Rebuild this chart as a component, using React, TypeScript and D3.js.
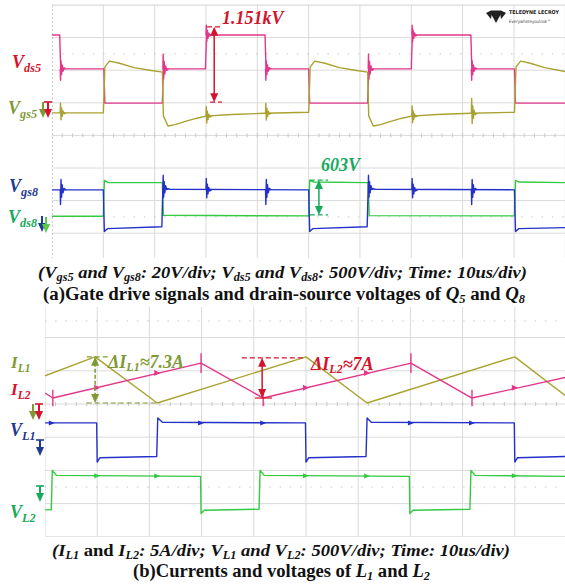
import React from 'react';
import * as d3 from 'd3';

type P = [number, number];

// ---------- Panel (a) : time in us (10us/div), level in divisions ----------
const vds5: P[] = [[0,3.08],[1.5,3.08],[1.7,2.04],[10.1,2.04],[10.3,0.99],[21.5,0.99],[21.7,2.04],[29.9,2.04],[30.1,3.08],[41.5,3.08],[41.7,2.04],[50.0,2.04],[50.2,0.99],[61.5,0.99],[61.7,2.04],[70.0,2.04],[70.2,3.08],[81.6,3.08],[81.8,2.04],[90.1,2.04],[90.3,0.99],[100,0.99]];
const vgs5: P[] = [[0,0.69],[10.0,0.69],[10.3,2.1],[11.2,2.28],[13,2.22],[16,2.08],[19,2.0],[21.5,1.94],[21.7,0.6],[22.6,0.29],[24,0.33],[26,0.43],[28,0.52],[30,0.59],[35,0.64],[41.5,0.68],[50.0,0.71],[50.3,2.1],[51.2,2.28],[53,2.22],[56,2.08],[59,2.0],[61.5,1.94],[61.7,0.6],[62.6,0.29],[64,0.33],[66,0.43],[68,0.52],[70,0.59],[75,0.64],[81.6,0.68],[90.1,0.71],[90.4,2.1],[91.3,2.28],[93,2.22],[96,2.08],[100,1.96]];
const vgs8: P[] = [[0,-1.67],[10.0,-1.67],[10.2,-2.95],[10.8,-2.86],[21.4,-2.80],[21.6,-1.62],[23,-1.65],[50.0,-1.67],[50.2,-2.95],[50.8,-2.86],[61.4,-2.80],[61.6,-1.62],[63,-1.65],[90.1,-1.67],[90.3,-2.95],[90.9,-2.86],[100,-2.83]];
const vds8: P[] = [[0,-2.48],[10.0,-2.48],[10.2,-1.38],[11,-1.45],[21.5,-1.45],[21.7,-2.45],[50.0,-2.47],[50.2,-1.38],[51,-1.43],[61.6,-1.45],[61.8,-2.46],[90.1,-2.47],[90.3,-1.38],[91,-1.43],[100,-1.45]];

// ringing events [t, level, amplitude]
const vds5Rings: [number, number, number][] = [[1.6,2.04,-0.35],[21.6,2.04,0.45],[30.0,3.08,0.3],[41.6,2.04,-0.35],[61.6,2.04,0.45],[70.1,3.08,0.3],[81.7,2.04,-0.35]];
const vgs5Rings: [number, number, number][] = [[1.6,0.69,0.3],[30.0,0.59,0.3],[41.6,0.68,0.3],[70.1,0.6,0.3],[81.7,0.68,0.45]];
const vgs8Rings: [number, number, number][] = [[1.6,-1.67,-0.45],[21.6,-1.62,0.4],[30,-1.67,0.35],[41.6,-1.67,-0.45],[61.6,-1.62,0.4],[70.1,-1.67,0.35],[81.7,-1.67,-0.45]];

// ---------- Panel (b) ----------
const iL1: P[] = [[0,0.85],[9.6,1.42],[21.5,0.03],[50,1.42],[61.7,0.03],[90,1.42],[100,0.21]];
const iL2: P[] = [[0,0.33],[1.5,0.18],[29.9,1.23],[41.8,0.18],[70.1,1.23],[81.8,0.18],[100,0.81]];
const vL1: P[] = [[0,-0.57],[9.9,-0.57],[10.0,-1.75],[10.5,-1.62],[21.4,-1.58],[21.6,-0.42],[22.5,-0.55],[49.9,-0.57],[50,-1.75],[50.5,-1.62],[61.5,-1.58],[61.7,-0.42],[62.5,-0.55],[89.9,-0.57],[90,-1.75],[90.5,-1.62],[100,-1.58]];
const vL2: P[] = [[0,-3.19],[1.2,-3.19],[1.4,-2.0],[2.2,-2.15],[29.8,-2.18],[29.9,-3.3],[30.5,-3.2],[41.0,-3.17],[41.2,-2.0],[42,-2.15],[69.8,-2.18],[69.9,-3.3],[70.5,-3.2],[81.4,-3.17],[81.6,-2.0],[82.4,-2.15],[100,-2.18]];

const iL2Marks: P[] = [[10,0.49],[21.5,0.93],[50,0.49],[61.7,0.93],[90,0.49]];
const iL2Spikes: [number, number, number][] = [[1.5,0.18,0.25],[29.9,1.23,0.3],[41.8,0.18,0.25],[70.1,1.23,0.3],[81.8,0.18,0.25]];
const vL1Marks: P[] = [[1.3,-0.57],[29.9,-0.57],[41.8,-0.57],[70.1,-0.57],[81.8,-0.57]];
const vL2Marks: P[] = [[10,-2.16],[21.5,-2.17],[50,-2.16],[61.7,-2.17],[90,-2.16]];

// annotations [t, vTop, vBottom]
const annA1 = { t: 31.6, top: 3.33, bot: 1.02, dashTop: [30.2, 33.1], dashBot: [30.8, 33.1], label: '1.151kV' };
const annA2 = { t: 52.0, top: -1.37, bot: -2.44, dash: [50.2, 53.8], label: '603V' };
const annB1 = { t: 9.6, top: 1.42, bot: 0.03, dashTop: [8.0, 12.3], dashBot: [8.0, 21.5] };
const annB2 = { t: 41.6, top: 1.39, bot: 0.18, dashTop: [37.7, 49.8], solidBot: [40.2, 43.5] };

// caption segments: [text, kind] kind: n normal, i italic, s subscript
type Seg = [string, string];
const capA1: Seg[] = [['(V','i'],['gs5','s'],[' and V','i'],['gs8','s'],[': 20V/div; V','i'],['ds5','s'],[' and V','i'],['ds8','s'],[': 500V/div; Time: 10us/div)','i']];
const capA2: Seg[] = [['(a)Gate drive signals and drain-source voltages of ','n'],['Q','i'],['5','s'],[' and ','n'],['Q','i'],['8','s']];
const capB1: Seg[] = [['(I','i'],['L1','s'],[' and ','n'],['I','i'],['L2','s'],[': 5A/div; V','i'],['L1','s'],[' and V','i'],['L2','s'],[': 500V/div; Time: 10us/div)','i']];
const capB2: Seg[] = [['(b)Currents and voltages of ','n'],['L','i'],['1','s'],[' and ','n'],['L','i'],['2','s']];

const gridDivs = d3.range(0, 11);

const xA = d3.scaleLinear().domain([0, 100]).range([52, 565.3]);
const yA = d3.scaleLinear().domain([-4, 4]).range([265.8, 5]);
const xB = d3.scaleLinear().domain([0, 100]).range([45, 567]);
const yB = d3.scaleLinear().domain([-4, 3]).range([536.8, 304.4]);

const C = {
  pink: '#e2378a', olive: '#aaa230', blue: '#2431c8', green: '#34c940',
  red: '#d3142c', oliveLbl: '#7f9a35', blueLbl: '#1f3b8e', greenLbl: '#17a95c', grid: '#dadada',
};
const serif = "'Liberation Serif', 'Times New Roman', serif";

const ringShape: P[] = [[0,0],[0.05,1],[0.13,-0.7],[0.22,0.5],[0.32,-0.35],[0.45,0.2],[0.62,-0.1],[0.9,0]];

function tracePath(xs: any, ys: any, pts: P[]) {
  return d3.line<P>().x(d => xs(d[0])).y(d => ys(d[1]))(pts) || '';
}
function ringPath(xs: any, ys: any, t: number, v: number, a: number) {
  return d3.line<P>().x(d => xs(t + d[0] * 1.2)).y(d => ys(v + a * d[1]))(ringShape) || '';
}

function Grid({ xs, ys, x0, x1, y0, y1, rows, dotted, axisRow, leftDotted }: any) {
  return (
    <g>
      {rows.map((r: number) => (
        <line key={'h' + r} x1={x0} x2={x1} y1={ys(r)} y2={ys(r)} stroke={C.grid} strokeWidth={1} />
      ))}
      {gridDivs.map(d => (
        <line key={'v' + d} x1={xs(d * 10)} x2={xs(d * 10)} y1={y0} y2={y1}
          stroke={d === 0 && leftDotted ? '#9a9a9a' : C.grid} strokeWidth={1}
          strokeDasharray={d === 0 && leftDotted ? '2 2' : undefined} />
      ))}
      {dotted.map((r: number) => (
        <line key={'d' + r} x1={x0} x2={x1} y1={ys(r)} y2={ys(r)} stroke="#c8c8c8" strokeWidth={1} strokeDasharray="1.5 8.7" />
      ))}
      {d3.range(0, 101, 2).map(t => (
        <line key={'t' + t} x1={xs(t)} x2={xs(t)} y1={ys(axisRow) - 2} y2={ys(axisRow) + 2} stroke="#c8c8c8" strokeWidth={1} />
      ))}
    </g>
  );
}

function ChMarker({ x, y, color, flag }: { x: number; y: number; color: string; flag?: boolean }) {
  return (
    <g fill={color} stroke={color}>
      {flag && <line x1={x - 4} x2={x + 4} y1={y} y2={y} strokeWidth={1.6} />}
      <line x1={x} x2={x} y1={y} y2={y + 8} strokeWidth={2} />
      <path d={`M${x - 4},${y + 7} L${x + 4},${y + 7} L${x},${y + 16} Z`} stroke="none" />
    </g>
  );
}

function Label({ x, y, main, sub, color, size = 18 }: any) {
  return (
    <text x={x} y={y} fill={color} fontFamily={serif} fontWeight="bold" fontStyle="italic" fontSize={size}>
      <tspan>{main}</tspan>
      <tspan fontSize={size * 0.68} dy={4}>{sub}</tspan>
    </text>
  );
}

function VArrow({ x, y1, y2, color, dashed }: any) {
  return (
    <g>
      <line x1={x} x2={x} y1={y1 + 6} y2={y2 - 6} stroke={color} strokeWidth={1.5} strokeDasharray={dashed ? '4 2' : undefined} />
      <path d={`M${x - 4},${y1 + 9} L${x + 4},${y1 + 9} L${x},${y1} Z`} fill={color} />
      <path d={`M${x - 4},${y2 - 9} L${x + 4},${y2 - 9} L${x},${y2} Z`} fill={color} />
    </g>
  );
}

function Caption({ x, y, segs, size, width }: { x: number; y: number; segs: Seg[]; size: number; width: number }) {
  let down = false;
  return (
    <text x={x} y={y} fontFamily={serif} fontWeight="bold" fontSize={size} fill="#111"
      textLength={width} lengthAdjust="spacingAndGlyphs">
      {segs.map(([t, k], i) => {
        let dy = 0;
        if (k === 's') { dy = down ? 0 : 3; down = true; }
        else { dy = down ? -3 : 0; down = false; }
        return (
          <tspan key={i} dy={dy || undefined} fontSize={k === 's' ? size * 0.66 : undefined}
            fontStyle={k === 'n' ? 'normal' : 'italic'}>{t}</tspan>
        );
      })}
    </text>
  );
}

export default function App() {
  const rowsA = d3.range(-4, 5);
  const rowsB = d3.range(-4, 4);
  return (
    <svg width={565} height={585} style={{ position: 'absolute', left: 0, top: 0, background: '#fff' }}>
      <defs>
        <clipPath id="ca"><rect x={52} y={5} width={513} height={253} /></clipPath>
        <clipPath id="cb"><rect x={45} y={306} width={520} height={231} /></clipPath>
      </defs>
      <rect width={565} height={585} fill="#fff" />

      {/* Panel a */}
      <g clipPath="url(#ca)">
        <Grid xs={xA} ys={yA} x0={52} x1={565} y0={5} y1={258} rows={rowsA} dotted={[2.5, -2.5]} axisRow={0} leftDotted />
        <g fill="none" strokeWidth={1.4} strokeLinejoin="round">
          <path d={tracePath(xA, yA, vds5)} stroke={C.pink} />
          {vds5Rings.map((r, i) => <path key={i} d={ringPath(xA, yA, r[0], r[1], r[2])} stroke={C.pink} />)}
          <path d={tracePath(xA, yA, vgs5)} stroke={C.olive} />
          {vgs5Rings.map((r, i) => <path key={i} d={ringPath(xA, yA, r[0], r[1], r[2])} stroke={C.olive} />)}
          <path d={tracePath(xA, yA, vds8)} stroke={C.green} />
          <path d={tracePath(xA, yA, vgs8)} stroke={C.blue} />
          {vgs8Rings.map((r, i) => <path key={i} d={ringPath(xA, yA, r[0], r[1], r[2])} stroke={C.blue} />)}
        </g>
      </g>
      <line x1={52} x2={565} y1={5} y2={5} stroke={C.grid} />

      {/* annotations a */}
      <g stroke={C.red} strokeWidth={1.2} strokeDasharray="5 3">
        <line x1={xA(annA1.dashTop[0])} x2={xA(annA1.dashTop[1])} y1={yA(annA1.top)} y2={yA(annA1.top)} />
        <line x1={xA(annA1.dashBot[0])} x2={xA(annA1.dashBot[1])} y1={yA(annA1.bot)} y2={yA(annA1.bot)} />
      </g>
      <VArrow x={xA(annA1.t)} y1={yA(annA1.top)} y2={yA(annA1.bot)} color={C.red} />
      <text x={222} y={24} fill={C.red} fontFamily={serif} fontWeight="bold" fontStyle="italic" fontSize={18}>{annA1.label}</text>

      <g stroke={C.greenLbl} strokeWidth={1.2} strokeDasharray="5 3">
        <line x1={xA(annA2.dash[0])} x2={xA(annA2.dash[1])} y1={yA(annA2.top)} y2={yA(annA2.top)} />
        <line x1={xA(annA2.dash[0])} x2={xA(annA2.dash[1])} y1={yA(annA2.bot)} y2={yA(annA2.bot)} />
      </g>
      <VArrow x={xA(annA2.t)} y1={yA(annA2.top)} y2={yA(annA2.bot)} color={C.greenLbl} />
      <text x={321} y={171} fill={C.greenLbl} fontFamily={serif} fontWeight="bold" fontStyle="italic" fontSize={18}>{annA2.label}</text>

      {/* logo */}
      <g fill="#222">
        <path d="M486,13 L506,13 L501,10.5 L491,10.5 Z" />
        <path d="M490.5,13 L496,23 L501.5,13 Z" />
        <path d="M486,13 L491,19 L492,13 Z" />
        <path d="M506,13 L501,19 L500,13 Z" />
      </g>
      <text x={509} y={13.5} fontFamily="'DejaVu Sans Condensed', 'DejaVu Sans', sans-serif" fontWeight="bold" fontSize={5.3} fill="#222"
        textLength={50} lengthAdjust="spacingAndGlyphs">TELEDYNE LECROY</text>
      <text x={509} y={22.5} fontFamily="'DejaVu Sans', sans-serif" fontSize={4.5} fill="#444"
        textLength={42} lengthAdjust="spacingAndGlyphs">Everywhereyoulook™</text>

      {/* labels a */}
      <Label x={12} y={68} main="V" sub="ds5" color={C.red} />
      <Label x={8} y={114} main="V" sub="gs5" color={C.oliveLbl} />
      <Label x={9} y={192} main="V" sub="gs8" color={C.blueLbl} />
      <Label x={8} y={223} main="V" sub="ds8" color={C.greenLbl} />
      <ChMarker x={43} y={102} color={C.oliveLbl} />
      <ChMarker x={48} y={102} color={C.red} flag />
      <ChMarker x={42} y={216} color={C.blueLbl} />
      <ChMarker x={46} y={217} color="#5cc94a" />

      {/* caption a */}
      <Caption x={38} y={278} segs={capA1} size={17.5} width={489} />
      <Caption x={43} y={300} segs={capA2} size={18} width={482} />

      {/* Panel b */}
      <g clipPath="url(#cb)">
        <Grid xs={xB} ys={yB} x0={45} x1={565} y0={307} y1={537} rows={rowsB} dotted={[2.5, -2.5]} axisRow={0} />
        <g fill="none" strokeWidth={1.4} strokeLinejoin="round">
          <path d={tracePath(xB, yB, iL1)} stroke={C.olive} />
          <path d={tracePath(xB, yB, iL2)} stroke={C.pink} />
          {iL2Spikes.map((r, i) => <line key={i} x1={xB(r[0])} x2={xB(r[0])} y1={yB(r[1] + r[2])} y2={yB(r[1] - r[2])} stroke={C.pink} />)}
          <path d={tracePath(xB, yB, vL1)} stroke={C.blue} />
          <path d={tracePath(xB, yB, vL2)} stroke={C.green} />
        </g>
        {iL2Marks.map((m, i) => <path key={i} d={`M${xB(m[0]) - 3},${yB(m[1]) - 3} L${xB(m[0]) + 3},${yB(m[1])} L${xB(m[0]) - 3},${yB(m[1]) + 3} Z`} fill={C.pink} />)}
        {vL1Marks.map((m, i) => <path key={i} d={`M${xB(m[0]) - 3},${yB(m[1]) - 2.5} L${xB(m[0]) + 3},${yB(m[1])} L${xB(m[0]) - 3},${yB(m[1]) + 2.5} Z`} fill={C.blue} />)}
        {vL2Marks.map((m, i) => <path key={i} d={`M${xB(m[0]) - 3},${yB(m[1]) - 2.5} L${xB(m[0]) + 3},${yB(m[1])} L${xB(m[0]) - 3},${yB(m[1]) + 2.5} Z`} fill={C.green} />)}
      </g>

      {/* annotations b */}
      <g stroke={C.oliveLbl} strokeWidth={1.2} strokeDasharray="5 3">
        <line x1={xB(annB1.dashTop[0])} x2={xB(annB1.dashTop[1])} y1={yB(annB1.top)} y2={yB(annB1.top)} />
        <line x1={xB(annB1.dashBot[0])} x2={xB(annB1.dashBot[1])} y1={yB(annB1.bot)} y2={yB(annB1.bot)} />
      </g>
      <VArrow x={xB(annB1.t)} y1={yB(annB1.top)} y2={yB(annB1.bot)} color={C.oliveLbl} dashed />
      <text x={108} y={368} fill={C.oliveLbl} fontFamily={serif} fontWeight="bold" fontStyle="italic" fontSize={18}>
        ΔI<tspan fontSize={12} dy={3}>L1</tspan><tspan dy={-3}>≈7.3A</tspan>
      </text>

      <line x1={xB(annB2.dashTop[0])} x2={xB(annB2.dashTop[1])} y1={yB(annB2.top)} y2={yB(annB2.top)} stroke={C.red} strokeWidth={1.2} strokeDasharray="5 3" />
      <line x1={xB(annB2.solidBot[0])} x2={xB(annB2.solidBot[1])} y1={yB(annB2.bot)} y2={yB(annB2.bot)} stroke={C.red} strokeWidth={1.2} />
      <VArrow x={xB(annB2.t)} y1={yB(annB2.top)} y2={yB(annB2.bot)} color={C.red} />
      <text x={311} y={370} fill={C.red} fontFamily={serif} fontWeight="bold" fontStyle="italic" fontSize={18}>
        ΔI<tspan fontSize={12} dy={3}>L2</tspan><tspan dy={-3}>≈7A</tspan>
      </text>

      {/* labels b */}
      <Label x={11} y={368} main="I" sub="L1" color={C.oliveLbl} size={17} />
      <Label x={11} y={395} main="I" sub="L2" color={C.red} size={17} />
      <Label x={10} y={436} main="V" sub="L1" color={C.blueLbl} />
      <Label x={10} y={518} main="V" sub="L2" color={C.greenLbl} />
      <ChMarker x={33} y={404} color={C.oliveLbl} />
      <ChMarker x={39} y={404} color={C.red} flag />
      <ChMarker x={40} y={440} color={C.blueLbl} flag />
      <ChMarker x={40} y={486} color={C.greenLbl} flag />

      {/* caption b */}
      <Caption x={52} y={556} segs={capB1} size={17.5} width={458} />
      <Caption x={133} y={577} segs={capB2} size={18} width={297} />
    </svg>
  );
}
